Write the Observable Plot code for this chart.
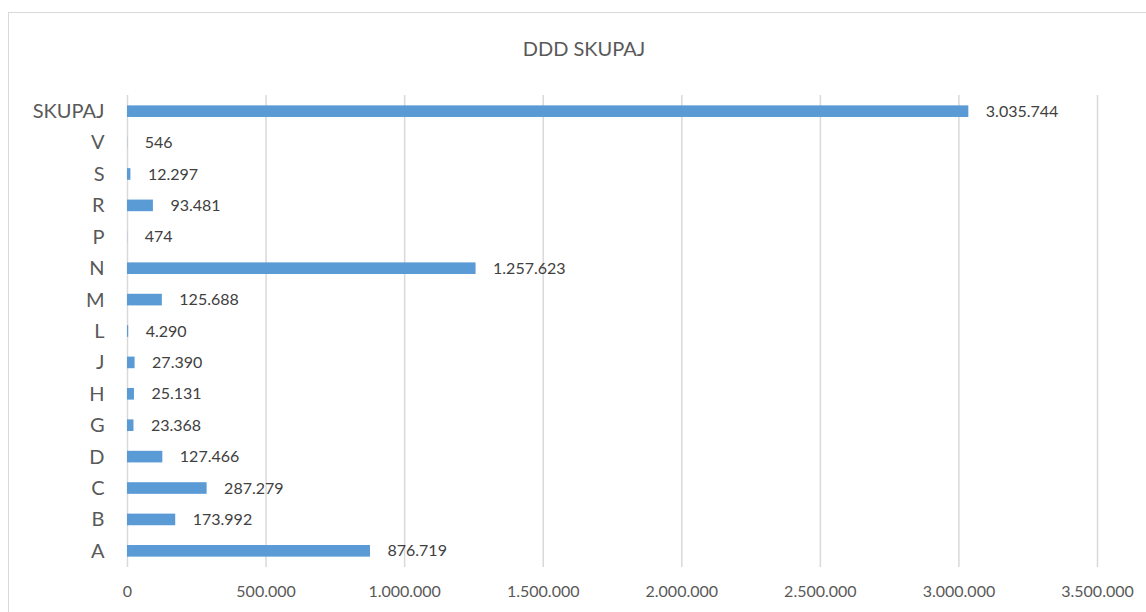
<!DOCTYPE html>
<html>
<head>
<meta charset="utf-8">
<script src="https://cdn.jsdelivr.net/npm/d3@7"></script>
<script src="https://cdn.jsdelivr.net/npm/@observablehq/plot@0.6"></script>
<style>
  html, body { margin: 0; padding: 0; background: #fff; }
  #wrap { position: relative; width: 1146px; height: 612px; overflow: hidden; font-family: Lato, "Open Sans", sans-serif; }
  #frame { position: absolute; left: 8px; top: 12px; width: 1160px; height: 620px; border: 1px solid #d9d9d9; box-sizing: border-box; }
  #title { position: absolute; left: 0; top: 35px; width: 1168px; text-align: center; font-size: 20px; line-height: 26px; color: #595959; }
  #chart { position: absolute; left: 0; top: 0; }
</style>
</head>
<body>
<div id="wrap">
  <div id="frame"></div>
  <div id="title">DDD SKUPAJ</div>
  <div id="chart"></div>
</div>
<script>
const categories = ["A","B","C","D","G","H","J","L","M","N","P","R","S","V","SKUPAJ"];
const values = [876719,173992,287279,127466,23368,25131,27390,4290,125688,1257623,474,93481,12297,546,3035744];
const xTicks = [0,500000,1000000,1500000,2000000,2500000,3000000,3500000];

const locale = d3.formatLocale({decimal: ",", thousands: ".", grouping: [3], currency: ["", ""]});
const fmt = locale.format(",d");

const data = categories.map((c, i) => ({cat: c, val: values[i]}));
const yDomain = categories.slice().reverse();

const plot = Plot.plot({
  width: 1146,
  height: 612,
  marginLeft: 127,
  marginRight: 49,
  marginTop: 95,
  marginBottom: 45,
  style: {fontFamily: "Lato, 'Open Sans', sans-serif", background: "transparent", overflow: "visible"},
  x: {domain: [0, 3500000], ticks: xTicks, tickFormat: d => fmt(d)},
  y: {domain: yDomain, paddingInner: 0.63, paddingOuter: 0.33, round: false},
  marks: [
    Plot.ruleX(xTicks, {stroke: "#d9d9d9", strokeWidth: 1.5}),
    Plot.barX(data, {x: "val", y: "cat", fill: "#5B9BD5"}),
    Plot.text(data, {x: "val", y: "cat", text: d => fmt(d.val), textAnchor: "start", dx: 17, fontSize: 16, fill: "#404040"}),
    Plot.axisX({ticks: xTicks, tickFormat: d => fmt(d), tickSize: 0, tickPadding: 18, fontSize: 16, color: "#595959", label: null}),
    Plot.axisY({tickSize: 0, tickPadding: 23, fontSize: 20, color: "#595959", label: null})
  ]
});
document.getElementById("chart").appendChild(plot);
</script>
</body>
</html>
